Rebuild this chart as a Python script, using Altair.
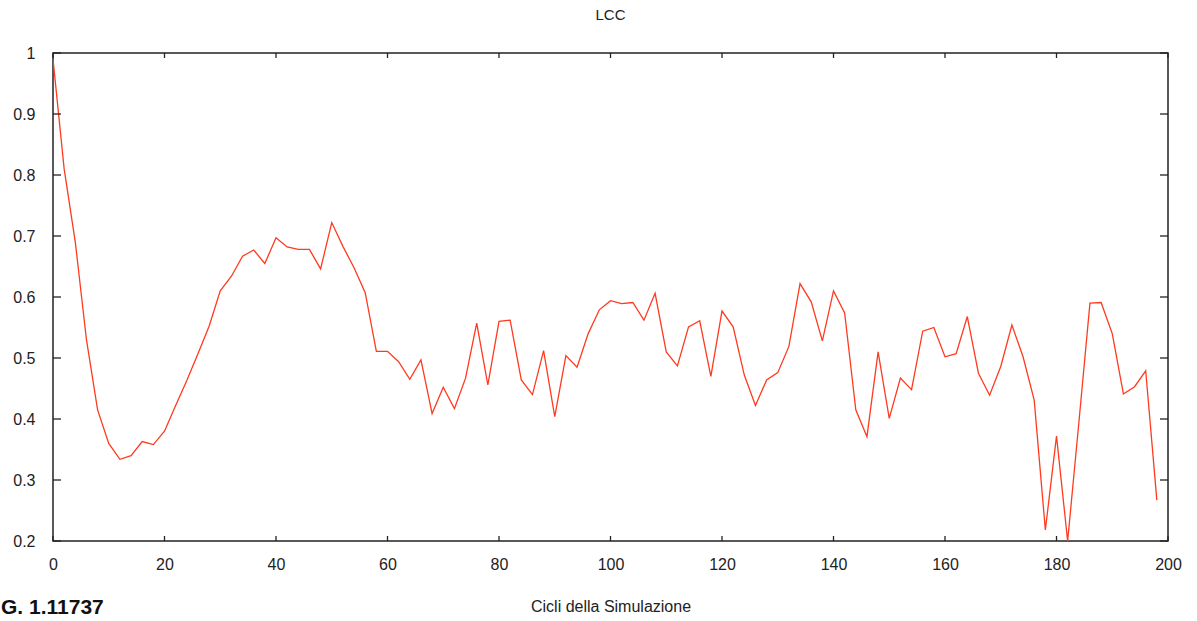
import altair as alt
import pandas as pd

# Data (one point every 2 cycles)
cycles = list(range(0, 200, 2))
lcc = [
    0.99, 0.81, 0.69, 0.53, 0.415, 0.36, 0.334, 0.34, 0.363, 0.358,
    0.38, 0.422, 0.463, 0.507, 0.552, 0.61, 0.634, 0.667, 0.677, 0.655,
    0.697, 0.682, 0.678, 0.678, 0.646, 0.722, 0.683, 0.648, 0.607, 0.511,
    0.511, 0.494, 0.465, 0.497, 0.409, 0.452, 0.417, 0.467, 0.557, 0.456,
    0.56, 0.562, 0.464, 0.44, 0.512, 0.404, 0.504, 0.485, 0.540, 0.579,
    0.594, 0.589, 0.591, 0.562, 0.606, 0.510, 0.487, 0.551, 0.561, 0.470,
    0.577, 0.551, 0.472, 0.422, 0.464, 0.476, 0.519, 0.622, 0.592, 0.528,
    0.610, 0.574, 0.415, 0.371, 0.510, 0.401, 0.467, 0.448, 0.544, 0.550,
    0.502, 0.507, 0.568, 0.475, 0.439, 0.486, 0.554, 0.502, 0.431, 0.218,
    0.372, 0.2, 0.393, 0.590, 0.591, 0.540, 0.441, 0.453, 0.479, 0.267,
]
x_ticks = [0, 20, 40, 60, 80, 100, 120, 140, 160, 180, 200]
y_ticks = [0.2, 0.3, 0.4, 0.5, 0.6, 0.7, 0.8, 0.9, 1.0]

W, H = 1115, 488
FONT = "Liberation Sans"
LINE = "#ff3a1f"
AX = "#222222"

df = pd.DataFrame({"cycle": cycles, "lcc": lcc})
xt = pd.DataFrame({"cycle": x_ticks})
yt = pd.DataFrame({"lcc": y_ticks})

xscale = alt.Scale(domain=[0, 200], nice=False, zero=False)
yscale = alt.Scale(domain=[0.2, 1.0], nice=False, zero=False)

xaxis = alt.Axis(values=x_ticks, format="d", ticks=False, domain=False,
                 grid=False, labelPadding=15, labelFontSize=16, labelFlush=False,
                 labelFont=FONT, labelColor=AX,
                 title="Cicli della Simulazione", titleFont=FONT,
                 titleFontSize=16, titleFontWeight="normal",
                 titleColor=AX, titlePadding=26)
yaxis = alt.Axis(values=y_ticks, format="~g", ticks=False, domain=False,
                 grid=False, labelPadding=18, labelFontSize=16, labelFlush=False,
                 labelFont=FONT, labelColor=AX, title=None)

line = alt.Chart(df).mark_line(color=LINE, strokeWidth=1.3, clip=True).encode(
    x=alt.X("cycle:Q", scale=xscale, axis=xaxis, title="Cicli della Simulazione"),
    y=alt.Y("lcc:Q", scale=yscale, axis=yaxis, title=None),
)

xb = alt.Chart(xt).mark_rule(color=AX, strokeWidth=1.3).encode(
    x=alt.X("cycle:Q", scale=xscale, title="Cicli della Simulazione"),
    y=alt.value(H), y2=alt.value(H - 5))
xtp = alt.Chart(xt).mark_rule(color=AX, strokeWidth=1.3).encode(
    x=alt.X("cycle:Q", scale=xscale, title="Cicli della Simulazione"),
    y=alt.value(0), y2=alt.value(5))
yl = alt.Chart(yt).mark_rule(color=AX, strokeWidth=1.3).encode(
    y=alt.Y("lcc:Q", scale=yscale, title=None), x=alt.value(0), x2=alt.value(8))
yr = alt.Chart(yt).mark_rule(color=AX, strokeWidth=1.3).encode(
    y=alt.Y("lcc:Q", scale=yscale, title=None), x=alt.value(W), x2=alt.value(W - 8))

note = alt.Chart(pd.DataFrame({"t": ["G. 1.11737"]})).mark_text(
    align="left", baseline="middle", font=FONT, fontSize=21, fontWeight="bold",
    color="#111111").encode(text="t:N", x=alt.value(-52), y=alt.value(555))

chart = alt.layer(line, xb, xtp, yl, yr, note).properties(
    width=W, height=H,
    title=alt.TitleParams(text="LCC", font=FONT, fontSize=15, fontWeight="normal",
                          color=AX, offset=22, anchor="middle"),
    autosize=alt.AutoSizeParams(type="none"),
    padding={"left": 53, "top": 53, "right": 29, "bottom": 80},
    background="white",
).configure_view(stroke=AX, strokeWidth=1.5)

chart.save("out.html", embed_options={"renderer": "svg", "actions": False})
